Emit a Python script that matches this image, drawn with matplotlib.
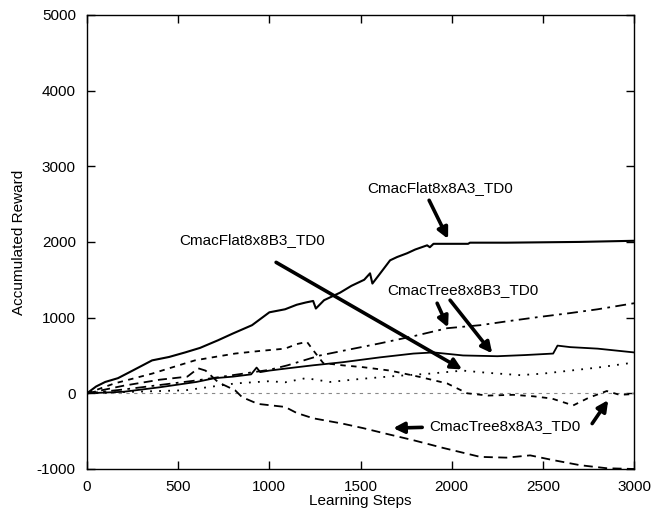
import matplotlib
matplotlib.use("Agg")
import matplotlib.pyplot as plt

plt.rcParams['font.family'] = ['Liberation Sans', 'DejaVu Sans']
plt.rcParams['font.size'] = 11
plt.rcParams['axes.unicode_minus'] = False

# -- curves (learning steps, accumulated reward)
flat_a3_x = [0, 50, 100, 170, 250, 357, 450, 538, 620, 718, 800, 905, 1000, 1086, 1150, 1200, 1240, 1255,
             1300, 1388, 1450, 1520, 1552, 1565, 1600, 1662, 1700, 1755, 1800, 1865, 1880, 1900, 2000,
             2090, 2100, 2300, 2500, 2700, 2800, 2900, 3000]
flat_a3_y = [0, 90, 150, 200, 300, 435, 480, 540, 600, 700, 790, 900, 1070, 1110, 1170, 1200, 1220, 1120,
             1230, 1330, 1420, 1500, 1585, 1450, 1560, 1757, 1800, 1850, 1900, 1955, 1930, 1975, 1975,
             1975, 1990, 1990, 1995, 2000, 2005, 2010, 2015]

tree_b3_x = [0, 200, 400, 600, 800, 1000, 1100, 1278, 1400, 1607, 1800, 1975, 2156, 2300, 2468, 2650, 2800, 3000]
tree_b3_y = [0, 50, 110, 170, 240, 310, 370, 500, 560, 660, 760, 860, 900, 950, 1005, 1060, 1110, 1190]

solid_x = [0, 200, 400, 600, 700, 800, 900, 930, 950, 1000, 1100, 1240, 1400, 1607, 1790, 1900, 2062,
           2250, 2400, 2556, 2580, 2650, 2800, 3000]
solid_y = [0, 20, 80, 150, 200, 220, 250, 340, 280, 300, 330, 370, 410, 475, 525, 540, 500,
           490, 505, 525, 630, 610, 590, 540]

dash_hi_x = [0, 150, 357, 450, 592, 700, 812, 950, 1086, 1150, 1206, 1240, 1295, 1400, 1514, 1662, 1827,
             1975, 2085, 2200, 2337, 2450, 2550, 2666, 2750, 2850, 2920, 3000]
dash_hi_y = [0, 130, 260, 330, 435, 480, 525, 560, 590, 650, 680, 570, 400, 370, 345, 300, 215,
             130, 0, -30, -20, -40, -70, -160, -60, 30, -20, -10]

dash_lo_x = [0, 200, 400, 550, 610, 650, 720, 812, 850, 937, 1086, 1150, 1240, 1400, 1514, 1650, 1790,
             1950, 2156, 2300, 2430, 2550, 2704, 2850, 3000]
dash_lo_y = [0, 100, 180, 220, 330, 300, 145, 40, -50, -140, -180, -260, -330, -400, -460, -540, -620,
             -720, -840, -850, -820, -880, -950, -990, -1000]

dot_x = [0, 250, 540, 812, 1000, 1086, 1200, 1333, 1500, 1700, 1880, 2060, 2200, 2375, 2500, 2650, 2800, 2980, 3000]
dot_y = [0, 20, 40, 130, 160, 145, 200, 150, 190, 230, 260, 300, 270, 240, 260, 300, 340, 400, 420]

fig = plt.figure(figsize=(6.64, 5.12), dpi=100)
ax = fig.add_axes([0.131, 0.084, 0.824, 0.887])

ax.axhline(0, color='#888888', lw=0.8, ls=(0, (3, 4)))
ax.plot(flat_a3_x, flat_a3_y, color='k', lw=1.5, ls='-')
ax.plot(tree_b3_x, tree_b3_y, color='k', lw=1.3, ls=(0, (6, 3, 1.5, 3)))
ax.plot(solid_x, solid_y, color='k', lw=1.3, ls='-')
ax.plot(dash_hi_x, dash_hi_y, color='k', lw=1.3, ls=(0, (3, 3)))
ax.plot(dash_lo_x, dash_lo_y, color='k', lw=1.3, ls=(0, (5, 3)))
ax.plot(dot_x, dot_y, color='k', lw=1.3, ls=(0, (1, 4)))

arrow = dict(arrowstyle='-|>', lw=2.6, color='k', mutation_scale=16, shrinkA=0, shrinkB=0)
ax.text(1936, 2707, 'CmacFlat8x8A3_TD0', ha='center', va='center')
ax.annotate('', xy=(1980, 2040), xytext=(1876, 2550), arrowprops=arrow)
ax.text(905, 2020, 'CmacFlat8x8B3_TD0', ha='center', va='center')
ax.annotate('', xy=(2057, 315), xytext=(1037, 1730), arrowprops=arrow)
ax.text(2063, 1360, 'CmacTree8x8B3_TD0', ha='center', va='center')
ax.annotate('', xy=(1980, 870), xytext=(1920, 1190), arrowprops=arrow)
ax.annotate('', xy=(2222, 528), xytext=(1991, 1230), arrowprops=arrow)
ax.text(2293, -435, 'CmacTree8x8A3_TD0', ha='center', va='center')
ax.annotate('', xy=(1679, -460), xytext=(1838, -450), arrowprops=arrow)
ax.annotate('', xy=(2858, -90), xytext=(2770, -400), arrowprops=arrow)

ax.set_xlim(0, 3000)
ax.set_ylim(-1000, 5000)
ax.set_xticks(range(0, 3001, 500))
ax.set_yticks(range(-1000, 5001, 1000))
ax.tick_params(direction='in', top=True, right=True, length=6, width=1, labelsize=11)
ax.tick_params(axis='x', pad=8)
ax.tick_params(axis='y', pad=8)
for s in ax.spines.values():
    s.set_linewidth(1)
ax.set_xlabel('Learning Steps', labelpad=0)
ax.set_ylabel('Accumulated Reward', labelpad=8)

fig.savefig('out.png', dpi=100)
